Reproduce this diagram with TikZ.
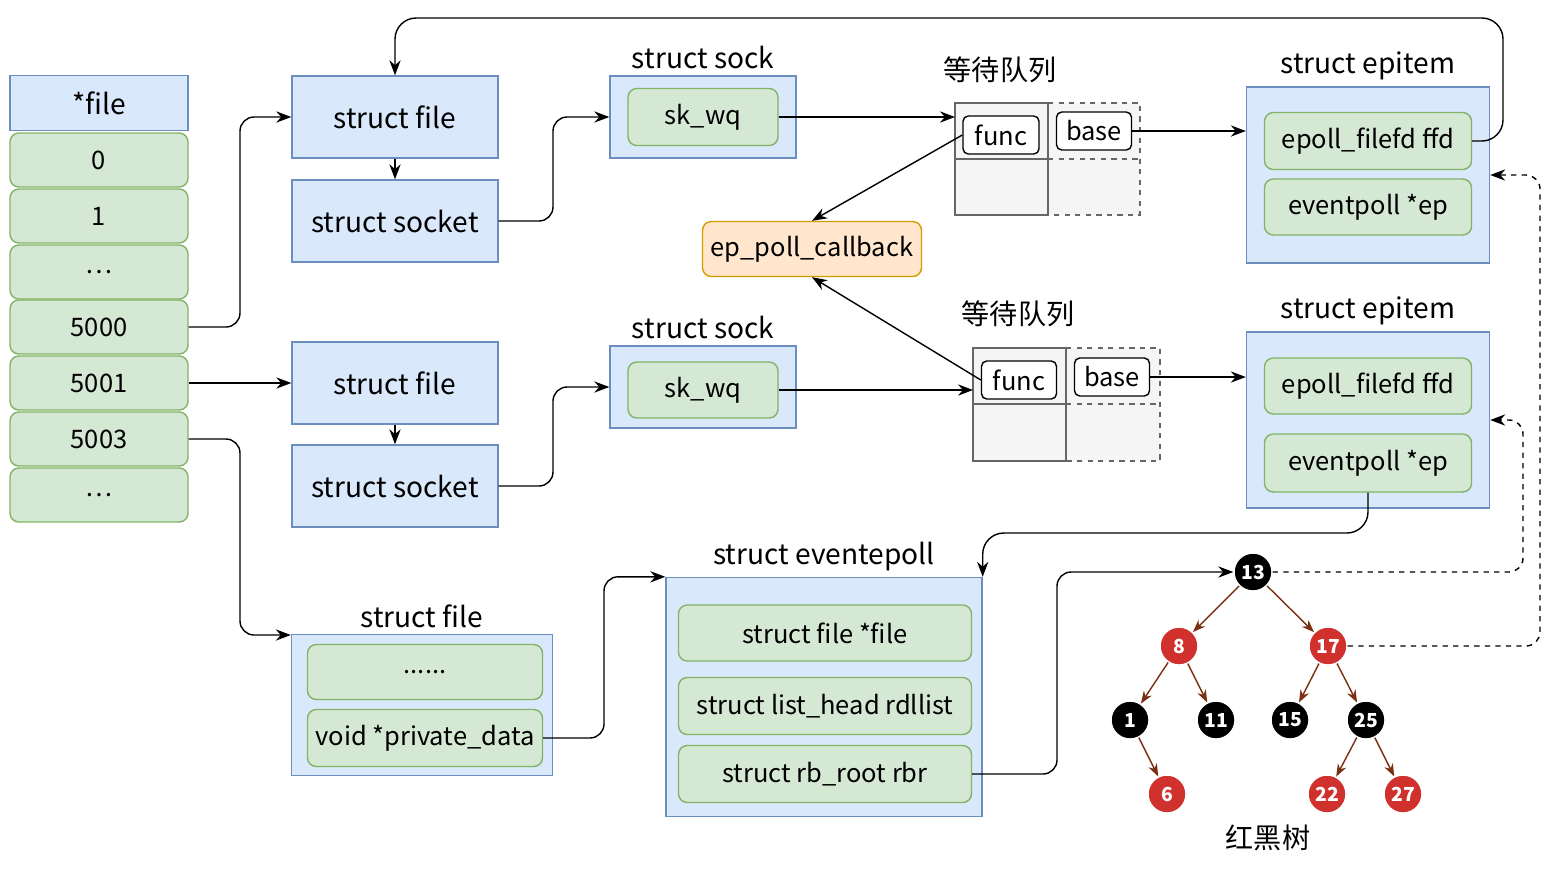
\documentclass[tikz,border=0pt]{standalone}
\usepackage{fontspec}
\setmainfont{Noto Sans CJK SC}
\usetikzlibrary{arrows.meta}
\usetikzlibrary{positioning}
\definecolor{bluefill}{HTML}{DAE8FC}
\definecolor{bluedraw}{HTML}{6C8EBF}
\definecolor{greenfill}{HTML}{D5E8D4}
\definecolor{greendraw}{HTML}{82B366}
\definecolor{orangefill}{HTML}{FFE6CC}
\definecolor{orangedraw}{HTML}{D79B00}
\definecolor{rbred}{HTML}{D0312D}
\definecolor{rbedge}{HTML}{7A2F12}
\newdimen\px
\px=0.02cm
\begin{document}
\begin{tikzpicture}[
		x=0.02cm, y=-0.02cm,
		arrow/.style={thick, -{Stealth[length=3mm]}, rounded corners=8pt},
		dasharrow/.style={arrow, dashed},
		outer/.style={draw=bluedraw, fill=bluefill, thick, inner sep=0pt, font=\fontsize{16}{19}\selectfont},
		inner/.style={draw=greendraw, fill=greenfill, thick, rounded corners=5pt, inner sep=0pt, font=\fontsize{14.5}{17}\selectfont},
		slot/.style={draw, thick, fill=white, rounded corners=3pt, inner sep=0pt, minimum height=38\px, font=\fontsize{14.5}{17}\selectfont},
		title/.style={font=\fontsize{16}{19}\selectfont},
		rb/.style={circle, draw=white, thick, minimum size=38\px, inner sep=0pt, text=white, font=\bfseries\fontsize{11}{12}\selectfont},
		blk/.style={rb, fill=black},
		red/.style={rb, fill=rbred},
		edge/.style={rbedge, thick, -{Stealth[length=2.5mm]}},
	]
	\useasboundingbox (0,0) rectangle (1550,870);
	% fd table
	\node[outer, minimum width=178\px, minimum height=55\px] (fdhead) at (99,103) {*file};
	\foreach \name/\txt/\y in {fd0/0/160, fd1/1/216, fddots/{\dots}/272, fd5000/5000/327, fd5001/5001/383, fd5003/5003/439, fdmore/{\dots}/495}
		\node[inner, minimum width=178\px, minimum height=54\px] (\name) at (99,\y) {\txt};

	% files and sockets
	\node[outer, minimum width=206\px, minimum height=82\px] (file1) at (395,117) {struct file};
	\node[outer, minimum width=206\px, minimum height=82\px] (socket1) at (395,221) {struct socket};
	\node[outer, minimum width=206\px, minimum height=82\px] (file2) at (395,383) {struct file};
	\node[outer, minimum width=206\px, minimum height=82\px] (socket2) at (395,486) {struct socket};

	% socks
	\node[outer, minimum width=186\px, minimum height=82\px] (sock1) at (703,117) {};
	\node[title, above=0pt of sock1] {struct sock};
	\node[inner, minimum width=150\px, minimum height=57\px] (skwq1) at (703,117) {sk\_wq};
	\node[outer, minimum width=186\px, minimum height=82\px] (sock2) at (703,387) {};
	\node[title, above=0pt of sock2] {struct sock};
	\node[inner, minimum width=150\px, minimum height=56\px] (skwq2) at (703,390) {sk\_wq};

	% wait queues
	\fill[black!4] (955,103) rectangle (1140,215);
	\draw[thick, black!60] (955,103) rectangle (1048,215) (955,159) -- (1048,159);
	\draw[thick, black!60, dashed] (1048,103) -- (1140,103) -- (1140,215) -- (1048,215) (1048,159) -- (1140,159);
	\node[title] (wq1) at (1000,70) {等待队列};
	\node[slot, minimum width=76\px] (func1) at (1001,135) {func};
	\node[slot, minimum width=75\px] (base1) at (1094,131) {base};
	\coordinate (wq1in) at (955,117);

	\fill[black!4] (973,348) rectangle (1160,461);
	\draw[thick, black!60] (973,348) rectangle (1066,461) (973,404) -- (1066,404);
	\draw[thick, black!60, dashed] (1066,348) -- (1160,348) -- (1160,461) -- (1066,461) (1066,404) -- (1160,404);
	\node[title] (wq2) at (1018,314) {等待队列};
	\node[slot, minimum width=75\px] (func2) at (1019,380) {func};
	\node[slot, minimum width=75\px] (base2) at (1112,377) {base};
	\coordinate (wq2in) at (973,390);

	% callback
	\node[draw=orangedraw, fill=orangefill, thick, rounded corners=5pt, minimum width=219\px, minimum height=55\px, font=\fontsize{14.5}{17}\selectfont] (callback) at (812,249) {ep\_poll\_callback};

	% epitems
	\node[outer, minimum width=243\px, minimum height=176\px] (epitem1) at (1368,175) {};
	\node[title, above=0pt of epitem1] {struct epitem};
	\node[inner, minimum width=207\px, minimum height=57\px] (ffd1) at (1368,141) {epoll\_filefd ffd};
	\node[inner, minimum width=207\px, minimum height=56\px] (ep1) at (1368,207) {eventpoll *ep};
	\node[outer, minimum width=243\px, minimum height=176\px] (epitem2) at (1368,420) {};
	\node[title, above=0pt of epitem2] {struct epitem};
	\node[inner, minimum width=207\px, minimum height=56\px] (ffd2) at (1368,386) {epoll\_filefd ffd};
	\node[inner, minimum width=207\px, minimum height=58\px] (ep2) at (1368,463) {eventpoll *ep};

	% file of epoll
	\node[outer, minimum width=261\px, minimum height=141\px] (file3) at (422,705) {};
	\node[title, above=0pt of file3] {struct file};
	\node[inner, minimum width=235\px, minimum height=55\px] (dots) at (425,672) {......};
	\node[inner, minimum width=235\px, minimum height=57\px] (privdata) at (425,738) {void *private\_data};

	% eventpoll
	\node[outer, minimum width=316\px, minimum height=239\px] (evpoll) at (824,697) {};
	\node[title, above=0pt of evpoll] {struct eventepoll};
	\node[inner, minimum width=293\px, minimum height=56\px] (evfile) at (825,633) {struct file *file};
	\node[inner, minimum width=293\px, minimum height=57\px] (rdllist) at (825,706) {struct list\_head rdllist};
	\node[inner, minimum width=293\px, minimum height=57\px] (rbr) at (825,774) {struct rb\_root rbr};

	% red-black tree
	\node[blk] (n13) at (1253,572) {13};
	\node[red] (n8) at (1179,646) {8};
	\node[red] (n17) at (1328,646) {17};
	\node[blk] (n1) at (1130,720) {1};
	\node[blk] (n11) at (1216,720) {11};
	\node[blk] (n15) at (1290,720) {15};
	\node[blk] (n25) at (1366,720) {25};
	\node[red] (n6) at (1167,794) {6};
	\node[red] (n22) at (1327,794) {22};
	\node[red] (n27) at (1403,794) {27};
	\node[title] (rbtitle) at (1268,838) {红黑树};
	\foreach \a/\b in {n13/n8, n13/n17, n8/n1, n8/n11, n17/n15, n17/n25, n1/n6, n25/n22, n25/n27}
		\draw[edge] (\a) -- (\b);

	% fd table to files
	\draw[arrow] (fd5000.east) -| (240,250) |- (file1.west);
	\draw[arrow] (fd5001.east) -- (file2.west);
	\draw[arrow] (fd5003.east) -| (240,600) |- (file3.west |- 635,635);
	\draw[arrow] (file1) -- (socket1);
	\draw[arrow] (file2) -- (socket2);
	\draw[arrow] (socket1.east) -| (553,170) |- (sock1.west);
	\draw[arrow] (socket2.east) -| (553,440) |- (sock2.west);
	\draw[arrow] (skwq1.east) -- (wq1in);
	\draw[arrow] (skwq2.east) -- (wq2in);
	\draw[arrow] (func1.west) -- (callback.north);
	\draw[arrow] (func2.west) -- (callback.south);
	\draw[arrow] (base1.east) -- (base1.east -| epitem1.west);
	\draw[arrow] (base2.east) -- (base2.east -| epitem2.west);

	% back references
	\draw[arrow, rounded corners=12pt] (ffd1.east) -| (1503,18) -| (file1.north);
	\draw[arrow, rounded corners=12pt] (ep2.south) |- (1100,533) -| (evpoll.north east);
	\draw[arrow] (privdata.east) -| (604,650) |- (evpoll.north west);
	\draw[arrow] (rbr.east) -| (1057,650) |- (n13.west);
	\draw[dasharrow] (n13.east) -| (1523,500) |- (epitem2.east);
	\draw[dasharrow] (n17.east) -| (1540,300) |- (epitem1.east);
\end{tikzpicture}
\end{document}
